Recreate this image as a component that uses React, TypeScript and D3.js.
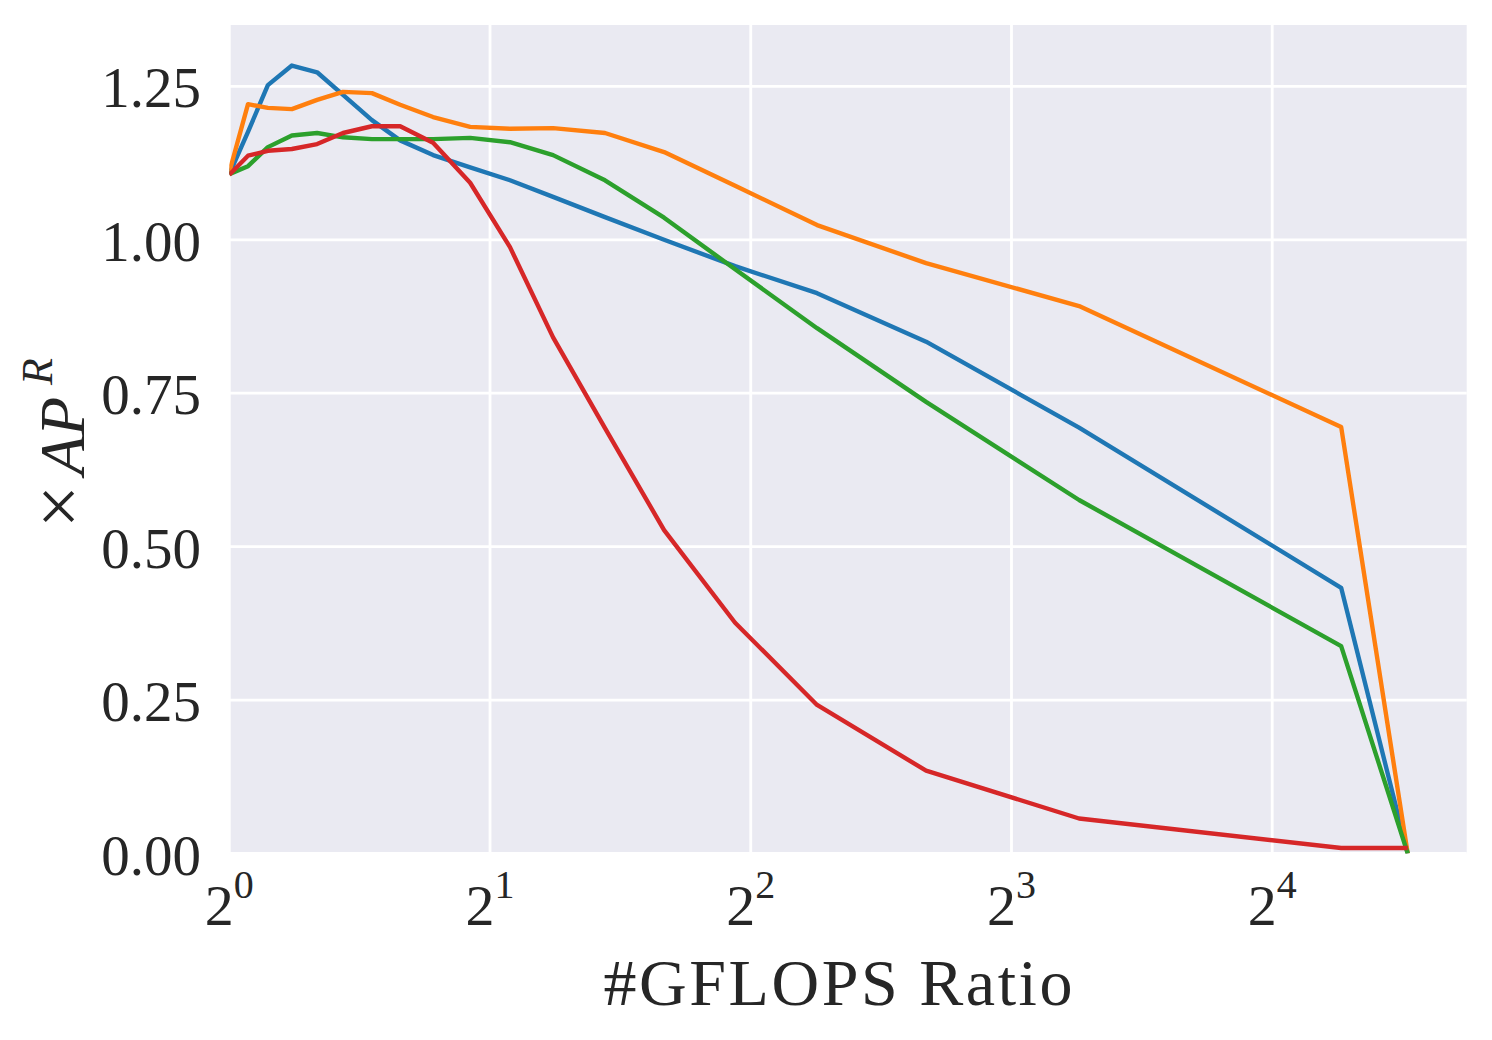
import React from "react";
import * as d3 from "d3";

// #GFLOPS ratio for each measured point (shared by all four series)
const gflopsRatio = [
  1, 1.051, 1.108, 1.181, 1.263, 1.353, 1.461, 1.575, 1.719, 1.897, 2.109,
  2.365, 2.715, 3.177, 3.837, 4.771, 6.375, 9.575, 19.22, 22.94,
];

const seriesBlue = [
  1.107, 1.176, 1.252, 1.284, 1.273, 1.236, 1.195, 1.162, 1.138, 1.118, 1.097,
  1.07, 1.037, 1.0, 0.957, 0.913, 0.834, 0.694, 0.433, 0,
];
const seriesOrange = [
  1.11, 1.221, 1.215, 1.213, 1.228, 1.241, 1.239, 1.22, 1.2, 1.184, 1.181,
  1.182, 1.174, 1.143, 1.088, 1.024, 0.962, 0.892, 0.695, 0,
];
const seriesGreen = [
  1.107, 1.12, 1.151, 1.17, 1.174, 1.167, 1.164, 1.164, 1.164, 1.166, 1.159,
  1.138, 1.097, 1.036, 0.952, 0.856, 0.736, 0.576, 0.338, 0,
];
const seriesRed = [
  1.106, 1.137, 1.145, 1.148, 1.156, 1.174, 1.185, 1.185, 1.158, 1.093, 0.988,
  0.841, 0.693, 0.527, 0.376, 0.242, 0.135, 0.057, 0.009, 0.009,
];

const allSeries = [seriesBlue, seriesOrange, seriesGreen, seriesRed];
const seriesColors = ["#1f77b4", "#ff7f0e", "#2ca02c", "#d62728"];

const xTickExponents = [0, 1, 2, 3, 4];
const yTicks = [0, 0.25, 0.5, 0.75, 1.0, 1.25];

const WIDTH = 1492;
const HEIGHT = 1040;
const plot = { left: 229.3, right: 1466.7, top: 25, bottom: 853.5 };
const FONT = "'Liberation Serif', 'DejaVu Serif', serif";
const TEXT_COLOR = "#262626";

export default function App() {
  const x = d3
    .scaleLog()
    .base(2)
    .domain([1, Math.pow(2, 4.746)])
    .range([plot.left, plot.right]);

  const y = d3.scaleLinear().domain([0, 1.35]).range([plot.bottom, plot.top]);

  const line = d3
    .line<number>()
    .x((_, i) => x(gflopsRatio[i]))
    .y((d) => y(d));

  return (
    <svg
      width={WIDTH}
      height={HEIGHT}
      style={{ position: "absolute", left: 0, top: 0, background: "#fff" }}
      fontFamily={FONT}
    >
      <defs>
        <clipPath id="plot-clip">
          <rect
            x={plot.left}
            y={plot.top}
            width={plot.right - plot.left}
            height={plot.bottom - plot.top}
          />
        </clipPath>
      </defs>

      {/* axes background */}
      <rect
        x={plot.left}
        y={plot.top}
        width={plot.right - plot.left}
        height={plot.bottom - plot.top}
        fill="#eaeaf2"
      />

      {/* grid */}
      {xTickExponents.map((k) => (
        <line
          key={`gx-${k}`}
          x1={x(Math.pow(2, k))}
          x2={x(Math.pow(2, k))}
          y1={plot.top}
          y2={plot.bottom}
          stroke="#fff"
          strokeWidth={2.8}
        />
      ))}
      {yTicks.map((t) => (
        <line
          key={`gy-${t}`}
          x1={plot.left}
          x2={plot.right}
          y1={y(t)}
          y2={y(t)}
          stroke="#fff"
          strokeWidth={2.8}
        />
      ))}

      {/* series */}
      <g clipPath="url(#plot-clip)">
        {allSeries.map((s, i) => (
          <path
            key={`s-${i}`}
            d={line(s) ?? ""}
            fill="none"
            stroke={seriesColors[i]}
            strokeWidth={4.4}
            strokeLinejoin="round"
            strokeLinecap="butt"
          />
        ))}
      </g>

      {/* y tick labels */}
      {yTicks.map((t) => (
        <text
          key={`ty-${t}`}
          x={201}
          y={y(t) + 21}
          textAnchor="end"
          fontSize={57}
          fill={TEXT_COLOR}
        >
          {t.toFixed(2)}
        </text>
      ))}

      {/* x tick labels */}
      {xTickExponents.map((k) => (
        <text
          key={`tx-${k}`}
          x={x(Math.pow(2, k))}
          y={925}
          textAnchor="middle"
          fontSize={58}
          fill={TEXT_COLOR}
        >
          2
          <tspan fontSize={40} dy={-27}>
            {k}
          </tspan>
        </text>
      ))}

      {/* axis labels */}
      <text
        x={838}
        y={1005}
        textAnchor="middle"
        fontSize={66}
        fill={TEXT_COLOR}
        textLength={469}
      >
        #GFLOPS Ratio
      </text>
      <text
        transform="translate(84,443) rotate(-90)"
        textAnchor="middle"
        fontSize={64}
        fill={TEXT_COLOR}
      >
        <tspan fontSize={76}>×</tspan>
        <tspan fontStyle="italic" dx={10}>
          AP
        </tspan>
        <tspan fontStyle="italic" fontSize={44} dx={12} dy={-32}>
          R
        </tspan>
      </text>
    </svg>
  );
}
